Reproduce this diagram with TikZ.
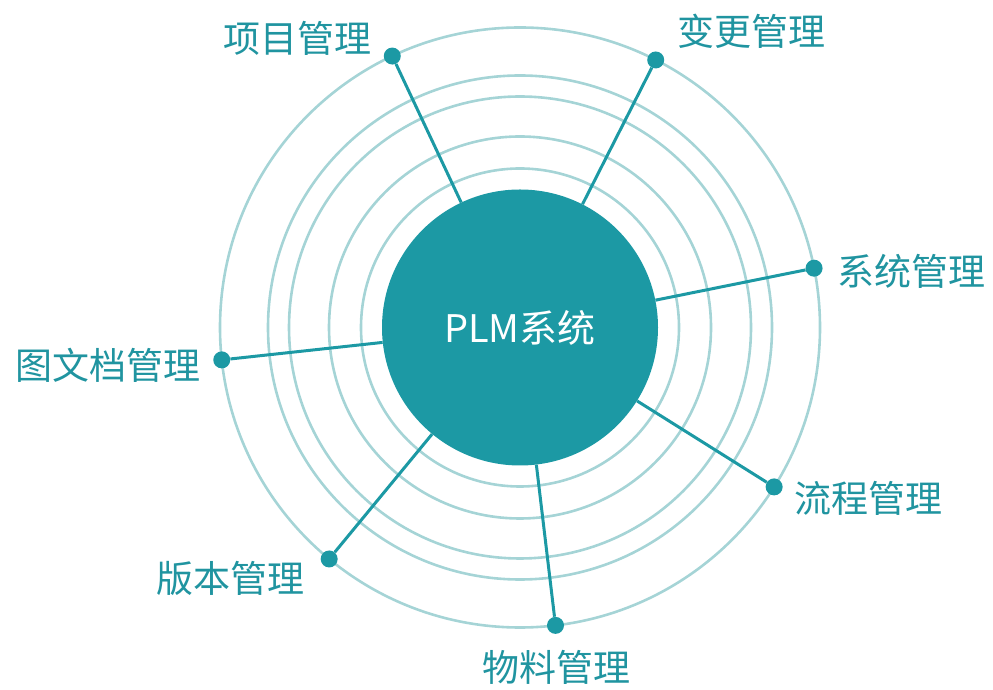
\documentclass[tikz,border=0pt]{standalone}
\usepackage{fontspec}
\usetikzlibrary{calc}
\setmainfont{Noto Sans CJK SC}
\definecolor{teal1}{HTML}{1C99A4}
\definecolor{ring}{HTML}{A5D4D6}
\definecolor{txt}{HTML}{2094A0}
\tikzset{
  ringline/.style={draw=ring, line width=2.6pt},
  link/.style={draw=teal1, line width=3pt},
  dot/.style={circle, fill=teal1, inner sep=0pt, minimum size=17pt},
  lab/.style={text=txt, font=\fontsize{37}{44}\selectfont, inner sep=0pt},
  hub/.style={circle, fill=teal1, inner sep=0pt, minimum size=276pt, text=white, font=\fontsize{38}{44}\selectfont}
}
\begin{document}
\begin{tikzpicture}[x=1pt,y=1pt]
\useasboundingbox (0,0) rectangle (993,690);
\coordinate (c) at (520,362.5);
\foreach \r in {300,252,231,191,159} \draw[ringline] (c) circle (\r);
\node[hub] (plm) at (c) {PLM系统};
\node[dot] (d1) at ($(c)+(115.2:300)$) {};
\node[dot] (d2) at ($(c)+(63.1:300)$) {};
\node[dot] (d3) at ($(c)+(11.4:300)$) {};
\node[dot] (d4) at ($(c)+(186.2:300)$) {};
\node[dot] (d5) at ($(c)+(-32.1:300)$) {};
\node[dot] (d6) at ($(c)+(-83.2:300)$) {};
\node[dot] (d7) at ($(c)+(230.5:300)$) {};
\foreach \d in {d1,d2,d3,d4,d5,d6,d7} \draw[link] (plm) -- (\d);
\node[lab] (l1) at (297,652) {项目管理};
\node[lab] (l2) at (751,659) {变更管理};
\node[lab] (l3) at (911,419) {系统管理};
\node[lab] (l4) at (108,325) {图文档管理};
\node[lab] (l5) at (868,192) {流程管理};
\node[lab] (l6) at (230,112) {版本管理};
\node[lab] (l7) at (556,23) {物料管理};
\end{tikzpicture}
\end{document}
